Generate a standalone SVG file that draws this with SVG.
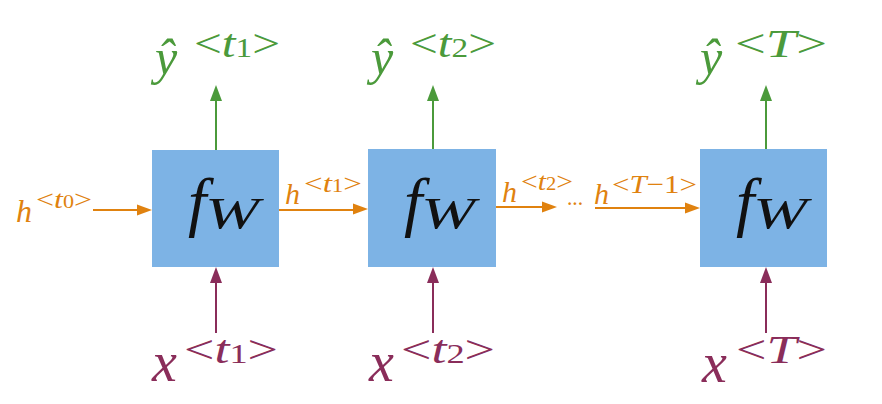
<svg xmlns="http://www.w3.org/2000/svg" width="882" height="404" viewBox="0 0 882 404">
<defs>
<style>
.box{fill:#7db3e5}
.m{font-family:"Liberation Serif","DejaVu Serif",serif;font-style:italic}
.r{font-family:"Liberation Serif","DejaVu Serif",serif;font-style:normal}
.g{fill:#4b9a3b}
.p{fill:#8a2d5a}
.o{fill:#e0820f}
.k{fill:#111}
.lg{stroke:#4b9a3b;stroke-width:2;fill:none}
.lp{stroke:#8a2d5a;stroke-width:2;fill:none}
.lo{stroke:#e0820f;stroke-width:2;fill:none}
</style>
</defs>
<rect width="882" height="404" fill="#fff"/>
<g id="connectors">
<path d="M216,150V100" class="lg"/><path d="M210,101L216,85L222,101z" class="g"/>
<path d="M433,150V100" class="lg"/><path d="M427,101L433,85L439,101z" class="g"/>
<path d="M766,150V100" class="lg"/><path d="M760,101L766,85L772,101z" class="g"/>
<path d="M216,333V282" class="lp"/><path d="M210,283L216,267L222,283z" class="p"/>
<path d="M433,333V282" class="lp"/><path d="M427,283L433,267L439,283z" class="p"/>
<path d="M766,333V282" class="lp"/><path d="M760,283L766,267L772,283z" class="p"/>
<path d="M93,210H138" class="lo"/><path d="M137,204.5L152,210L137,215.5z" class="o"/>
<path d="M279,210H354" class="lo"/><path d="M353,203.5L368,209L353,214.5z" class="o"/>
<path d="M496,207H543" class="lo"/><path d="M542,201.5L557,207L542,212.5z" class="o"/>
<path d="M595,208H686" class="lo"/><path d="M685,202.5L700,208L685,213.5z" class="o"/>
<text x="567" y="209" class="r o" font-size="16" font-weight="bold">···</text>
</g>
<g id="node1">
<rect class="box" x="152" y="150" width="127" height="117"/>
<text class="m k" x="188" y="224" font-size="66">f</text>
<text class="m k" x="205" y="228" font-size="44" textLength="54" lengthAdjust="spacingAndGlyphs">W</text>
</g>
<g id="node2">
<rect class="box" x="368" y="149" width="128" height="118"/>
<text class="m k" x="404" y="224" font-size="66">f</text>
<text class="m k" x="421" y="228" font-size="44" textLength="54" lengthAdjust="spacingAndGlyphs">W</text>
</g>
<g id="node3">
<rect class="box" x="700" y="149" width="127" height="118"/>
<text class="m k" x="736" y="224" font-size="66">f</text>
<text class="m k" x="753" y="228" font-size="44" textLength="54" lengthAdjust="spacingAndGlyphs">W</text>
</g>
<g id="y1" class="g">
<text class="m" x="155" y="74" font-size="50">ŷ</text>
<text class="r" x="194" y="57" font-size="40" textLength="86" lengthAdjust="spacingAndGlyphs"><tspan>&lt;</tspan><tspan class="m">t</tspan><tspan font-size="27">1</tspan><tspan>&gt;</tspan></text>
</g>
<g id="y2" class="g">
<text class="m" x="371" y="74" font-size="50">ŷ</text>
<text class="r" x="410" y="57" font-size="40" textLength="86" lengthAdjust="spacingAndGlyphs"><tspan>&lt;</tspan><tspan class="m">t</tspan><tspan font-size="27">2</tspan><tspan>&gt;</tspan></text>
</g>
<g id="y3" class="g">
<text class="m" x="700" y="74" font-size="50">ŷ</text>
<text class="r" x="735" y="57" font-size="40" textLength="92" lengthAdjust="spacingAndGlyphs"><tspan>&lt;</tspan><tspan class="m">T</tspan><tspan>&gt;</tspan></text>
</g>
<g id="x1" class="p">
<text class="m" x="152" y="381" font-size="56">x</text>
<text class="r" x="184" y="363" font-size="40" textLength="94" lengthAdjust="spacingAndGlyphs"><tspan>&lt;</tspan><tspan class="m">t</tspan><tspan font-size="27">1</tspan><tspan>&gt;</tspan></text>
</g>
<g id="x2" class="p">
<text class="m" x="369" y="381" font-size="56">x</text>
<text class="r" x="401" y="363" font-size="40" textLength="94" lengthAdjust="spacingAndGlyphs"><tspan>&lt;</tspan><tspan class="m">t</tspan><tspan font-size="27">2</tspan><tspan>&gt;</tspan></text>
</g>
<g id="x3" class="p">
<text class="m" x="702" y="382" font-size="56">x</text>
<text class="r" x="736" y="363" font-size="40" textLength="91" lengthAdjust="spacingAndGlyphs"><tspan>&lt;</tspan><tspan class="m">T</tspan><tspan>&gt;</tspan></text>
</g>
<g id="h0" class="o">
<text class="m" x="16" y="222" font-size="32">h</text>
<text class="r" x="36" y="208" font-size="26" textLength="56" lengthAdjust="spacingAndGlyphs"><tspan>&lt;</tspan><tspan class="m">t</tspan><tspan font-size="18">0</tspan><tspan>&gt;</tspan></text>
</g>
<g id="h1" class="o">
<text class="m" x="285" y="204" font-size="30">h</text>
<text class="r" x="304" y="192" font-size="26" textLength="58" lengthAdjust="spacingAndGlyphs"><tspan>&lt;</tspan><tspan class="m">t</tspan><tspan font-size="18">1</tspan><tspan>&gt;</tspan></text>
</g>
<g id="h2" class="o">
<text class="m" x="502" y="202" font-size="30">h</text>
<text class="r" x="521" y="190" font-size="26" textLength="52" lengthAdjust="spacingAndGlyphs"><tspan>&lt;</tspan><tspan class="m">t</tspan><tspan font-size="18">2</tspan><tspan>&gt;</tspan></text>
</g>
<g id="h3" class="o">
<text class="m" x="594" y="204" font-size="30">h</text>
<text class="r" x="612" y="193" font-size="26" textLength="85" lengthAdjust="spacingAndGlyphs"><tspan>&lt;</tspan><tspan class="m">T</tspan><tspan>−1</tspan><tspan>&gt;</tspan></text>
</g>
</svg>
